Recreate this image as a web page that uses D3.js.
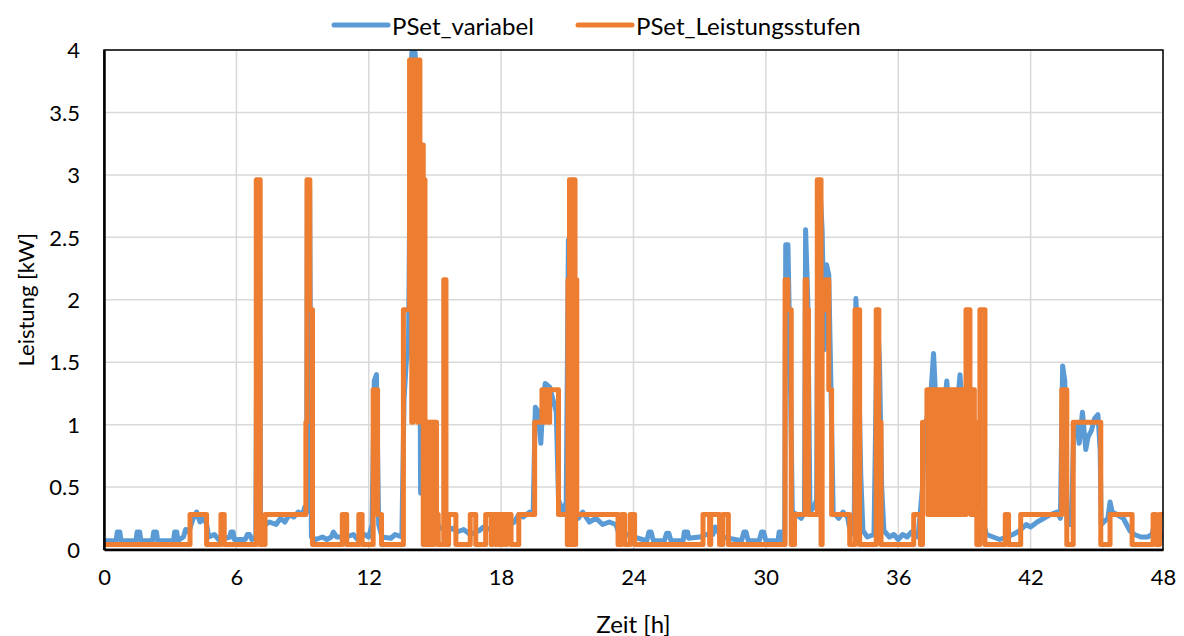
<!DOCTYPE html>
<html><head><meta charset="utf-8">
<script src="https://cdn.jsdelivr.net/npm/d3@7"></script>
<style>
html,body{margin:0;padding:0;background:#fff;}
text{font-family:Lato,"Open Sans",sans-serif;fill:#000;}
</style></head>
<body><svg id="chart" width="1184" height="636"></svg>
<script>
// ---------- data ----------
const seriesNames = ["PSet_variabel", "PSet_Leistungsstufen"];
const xTicks = [0, 6, 12, 18, 24, 30, 36, 42, 48];
const yTicks = [0, 0.5, 1, 1.5, 2, 2.5, 3, 3.5, 4];
const yTickLabels = ["0", "0.5", "1", "1.5", "2", "2.5", "3", "3.5", "4"];
const xTitle = "Zeit [h]";
const yTitle = "Leistung [kW]";

// PSet_variabel: [hour, kW]
const psetVariabel = [
[0,0.07],[0.55,0.07],[0.6,0.14],[0.72,0.14],[0.77,0.07],
[1.45,0.07],[1.5,0.14],[1.62,0.14],[1.67,0.07],
[2.2,0.07],[2.25,0.14],[2.38,0.14],[2.43,0.07],
[3.15,0.07],[3.2,0.14],[3.3,0.14],[3.35,0.07],
[3.6,0.1],[3.7,0.16],[3.85,0.14],[3.95,0.2],
[4.05,0.25],[4.2,0.3],[4.35,0.22],[4.5,0.26],[4.65,0.2],
[4.75,0.1],[5.0,0.12],[5.2,0.08],[5.5,0.09],[5.7,0.1],[5.75,0.14],[5.85,0.14],[5.9,0.08],
[6.4,0.08],[6.5,0.12],[6.6,0.12],[6.7,0.08],
[6.88,0.1],[6.95,2.6],[7.05,2.6],[7.1,0.1],[7.2,0.1],
[7.3,0.2],[7.5,0.22],[7.8,0.2],[8.0,0.25],[8.2,0.22],[8.4,0.28],[8.6,0.26],[8.8,0.3],[9.0,0.28],[9.1,0.34],
[9.18,0.3],[9.22,2.9],[9.32,2.9],[9.4,0.1],
[9.6,0.08],[9.9,0.1],[10.1,0.08],[10.3,0.1],[10.4,0.14],[10.55,0.1],[11.0,0.1],[11.3,0.12],[11.5,0.08],[11.8,0.12],[12.0,0.1],
[12.15,0.2],[12.25,1.35],[12.35,1.4],[12.45,0.2],
[12.6,0.1],[13.0,0.09],[13.2,0.12],[13.5,0.1],
[13.6,1.2],[13.7,1.5],[13.8,1.6],[13.88,3.3],[13.95,3.98],[14.1,3.98],[14.2,3.7],[14.3,2.6],[14.35,0.45],[14.42,1.0],[14.5,0.3],
[14.7,0.22],[15.0,0.25],[15.2,0.18],[15.5,0.15],[15.8,0.17],[16.0,0.14],[16.3,0.16],[16.6,0.12],[17.0,0.15],[17.2,0.18],[17.5,0.16],
[17.8,0.2],[18.1,0.18],[18.4,0.2],[18.6,0.22],[18.8,0.28],[19.0,0.26],[19.3,0.3],[19.45,0.28],
[19.55,1.14],[19.7,1.1],[19.8,0.85],[19.9,1.2],[20.0,1.33],[20.2,1.3],[20.35,1.2],[20.5,1.1],[20.6,0.4],[20.7,0.35],[20.8,0.3],[20.95,0.38],
[21.05,2.48],[21.15,2.2],[21.25,2.9],[21.35,0.3],[21.5,0.25],[21.7,0.3],[22.0,0.22],[22.3,0.25],[22.6,0.2],[22.9,0.22],[23.2,0.2],[23.35,0.12],[23.7,0.12],[24.0,0.1],
[24.6,0.07],[24.7,0.14],[24.8,0.14],[24.9,0.07],[25.4,0.07],[25.5,0.13],[25.6,0.13],[25.7,0.07],[26.25,0.07],[26.3,0.14],[26.45,0.14],[26.5,0.09],
[27.0,0.1],[27.3,0.12],[27.6,0.12],[27.7,0.18],[27.85,0.14],[28.0,0.1],[28.9,0.07],[29.0,0.14],[29.1,0.14],[29.2,0.07],
[29.7,0.07],[29.8,0.14],[29.9,0.14],[30.0,0.07],[30.55,0.07],[30.6,0.14],[30.7,0.14],[30.75,0.07],
[30.85,0.1],[30.9,2.44],[31.0,2.44],[31.1,1.5],[31.2,0.3],[31.4,0.28],[31.6,0.25],[31.75,0.3],[31.8,2.56],[31.9,2.0],[32.0,0.3],[32.2,0.35],[32.3,0.4],
[32.35,2.5],[32.45,2.9],[32.55,2.56],[32.65,1.6],[32.75,2.28],[32.85,2.2],[32.95,1.3],[33.05,0.3],[33.3,0.25],[33.5,0.3],[33.7,0.26],[33.85,0.12],
[34.0,0.15],[34.08,2.01],[34.2,1.5],[34.3,0.6],[34.4,0.15],[34.6,0.1],[34.9,0.12],[35.05,1.9],[35.15,1.5],[35.25,0.5],[35.35,0.15],
[35.6,0.1],[35.8,0.12],[36.0,0.08],[36.2,0.12],[36.4,0.1],[36.6,0.14],[36.9,0.1],[37.1,0.5],[37.2,0.95],[37.35,1.1],[37.5,1.3],[37.6,1.57],[37.7,1.2],
[37.8,0.7],[37.9,1.1],[38.0,0.95],[38.2,1.35],[38.3,1.1],[38.5,1.0],[38.7,1.2],[38.8,1.4],[38.9,1.1],[39.0,0.9],[39.1,1.2],[39.3,0.8],[39.4,0.6],
[39.6,0.4],[39.8,0.25],[40.0,0.12],[40.3,0.1],[40.6,0.08],[40.9,0.1],[41.2,0.12],[41.5,0.15],[41.8,0.2],[42.0,0.18],[42.3,0.22],[42.6,0.25],[42.9,0.28],
[43.2,0.3],[43.35,0.25],[43.45,1.47],[43.55,1.35],[43.65,0.2],[43.85,0.2],[43.95,0.95],[44.1,1.0],[44.2,0.85],[44.35,1.1],[44.5,0.8],[44.6,0.9],
[44.75,0.95],[44.9,1.05],[45.05,1.08],[45.15,0.8],[45.2,0.2],[45.5,0.25],[45.6,0.38],[45.7,0.3],[45.9,0.28],[46.2,0.25],[46.5,0.15],[46.7,0.12],
[47.0,0.1],[47.3,0.1],[47.5,0.12],[47.6,0.2],[47.7,0.12],[48,0.1]
];

// PSet_Leistungsstufen: [hour, kW] (held until next entry)
const psetLeistungsstufen = [
[0,0.04],[3.9,0.28],[4.65,0.04],[5.3,0.28],[5.45,0.04],[6.9,2.96],[7.08,0.04],[7.3,0.28],
[9.15,1.02],[9.2,2.96],[9.33,1.92],[9.45,0.04],[10.8,0.28],[11.0,0.04],[11.55,0.28],[11.7,0.04],
[12.2,1.28],[12.4,0.28],[12.58,0.04],[13.57,1.92],[13.85,3.92],[13.95,1.02],[14.0,3.92],[14.07,1.92],[14.12,3.92],
[14.22,1.02],[14.25,3.92],[14.32,3.24],[14.38,1.02],[14.42,3.24],[14.47,0.04],[14.5,2.96],[14.55,1.02],[14.58,0.04],
[14.61,1.02],[14.64,0.04],[14.67,1.02],[14.7,0.04],[14.73,1.02],[14.76,0.04],[14.79,1.02],[14.82,0.28],[14.85,1.02],
[14.88,0.04],[14.91,1.02],[14.94,0.04],[14.97,1.02],[15.0,0.28],[15.03,1.02],[15.07,0.28],[15.15,0.04],
[15.4,2.16],[15.5,0.04],[15.62,0.28],[15.95,0.04],[16.6,0.28],[16.85,0.04],[17.3,0.28],[17.55,0.04],[17.6,0.28],
[17.75,0.04],[17.8,0.28],[17.9,0.04],[17.95,0.28],[18.05,0.04],[18.1,0.28],[18.2,0.04],[18.25,0.28],[18.45,0.04],
[18.8,0.28],[19.52,1.02],[19.85,1.28],[19.95,1.02],[20.0,1.28],[20.15,1.02],[20.2,1.28],[20.6,0.28],
[21.0,0.04],[21.03,2.16],[21.07,0.04],[21.1,2.96],[21.14,0.04],[21.17,2.96],[21.21,0.04],[21.24,2.96],[21.28,0.04],
[21.31,2.96],[21.35,0.04],[21.38,2.16],[21.43,0.28],[23.3,0.04],[23.45,0.28],
[23.6,0.04],[23.85,0.28],[24.05,0.04],[27.15,0.28],[27.45,0.04],[27.5,0.28],[27.9,0.04],[28.05,0.28],[28.3,0.04],
[30.87,2.16],[31.0,1.92],[31.15,0.04],[31.3,0.28],[31.78,2.16],[31.85,1.92],[31.93,0.28],[32.33,2.96],[32.5,0.04],
[32.55,1.92],[32.72,2.16],[32.85,1.28],[32.98,0.28],[33.8,0.04],[34.04,1.92],[34.25,0.04],[35.0,1.92],[35.12,1.02],
[35.22,0.04],[36.7,0.28],[37.0,0.04],[37.1,1.02],
[37.3,1.28],[37.34,0.28],[37.38,1.28],[37.42,0.28],[37.46,1.28],[37.5,0.28],[37.54,1.28],[37.58,0.28],[37.62,1.28],[37.66,0.28],
[37.7,1.28],[37.74,0.28],[37.78,1.28],[37.82,0.28],[37.86,1.28],[37.9,0.28],[37.94,1.28],[37.98,0.28],[38.02,1.28],[38.06,0.28],
[38.1,1.28],[38.14,0.28],[38.18,1.28],[38.22,0.28],[38.26,1.28],[38.3,0.28],[38.34,1.28],[38.38,0.28],[38.42,1.28],[38.46,0.28],
[38.5,1.28],[38.54,0.28],[38.58,1.28],[38.62,0.28],[38.66,1.28],[38.7,0.28],[38.74,1.28],[38.78,0.28],[38.82,1.28],[38.86,0.28],
[38.9,1.28],[38.94,0.28],[38.98,1.28],[39.02,0.28],[39.07,1.92],[39.25,1.28],[39.29,0.28],[39.33,1.28],[39.37,0.28],[39.41,1.28],
[39.45,1.02],[39.56,0.04],[39.7,1.92],[39.93,0.04],[40.85,0.28],[41.0,0.04],[41.55,0.28],[43.41,1.28],[43.64,0.04],
[43.93,1.02],[45.18,0.04],[45.6,0.28],[46.6,0.04],[47.55,0.28],[47.7,0.04],[47.85,0.28],[48,0.28]
];

// ---------- layout ----------
const m = {left:104, right:1163, top:50, bottom:549.5};
const blue = "#5B9BD5", orange = "#ED7D31";
const svg = d3.select("#chart");

const x = d3.scaleLinear().domain([0,48]).range([m.left, m.right]);
const y = d3.scaleLinear().domain([0,4]).range([m.bottom, m.top]);

// grid
svg.append("g").selectAll("line").data(yTicks.slice(1)).join("line")
  .attr("x1", m.left).attr("x2", m.right)
  .attr("y1", d=>y(d)).attr("y2", d=>y(d))
  .attr("stroke", "#d9d9d9").attr("stroke-width", 1.5);
svg.append("g").selectAll("line").data(xTicks.slice(1)).join("line")
  .attr("y1", m.top).attr("y2", m.bottom)
  .attr("x1", d=>x(d)).attr("x2", d=>x(d))
  .attr("stroke", "#d9d9d9").attr("stroke-width", 1.5);

// clip
svg.append("clipPath").attr("id","clip").append("rect")
  .attr("x", m.left).attr("y", m.top-3).attr("width", m.right-m.left).attr("height", m.bottom-m.top+3);

const lineBlue = d3.line().x(d=>x(d[0])).y(d=>y(d[1]));
const lineOrange = d3.line().x(d=>x(d[0])).y(d=>y(d[1])).curve(d3.curveStepAfter);

const gLines = svg.append("g").attr("clip-path","url(#clip)");
gLines.append("path").datum(psetVariabel).attr("d", lineBlue)
  .attr("fill","none").attr("stroke", blue).attr("stroke-width", 5)
  .attr("stroke-linejoin","round").attr("stroke-linecap","round");
gLines.append("path").datum(psetLeistungsstufen).attr("d", lineOrange)
  .attr("fill","none").attr("stroke", orange).attr("stroke-width", 5)
  .attr("stroke-linejoin","round").attr("stroke-linecap","round");

// frame
svg.append("rect").attr("x", m.left).attr("y", m.top)
  .attr("width", m.right-m.left).attr("height", m.bottom-m.top)
  .attr("fill","none").attr("stroke","#000").attr("stroke-width",1.5);

// axes
const yAxis = d3.axisLeft(y).tickValues(yTicks).tickFormat((d,i)=>yTickLabels[i]).tickSize(0).tickPadding(24);
const gy = svg.append("g").attr("transform",`translate(${m.left},0)`).call(yAxis);
gy.select(".domain").attr("stroke","#000").attr("stroke-width",2.5);
gy.selectAll("text").attr("font-size",22).attr("font-family","Lato, sans-serif").attr("dy","0.35em");

const xAxis = d3.axisBottom(x).tickValues(xTicks).tickFormat(d=>String(d)).tickSize(0).tickPadding(20);
const gx = svg.append("g").attr("transform",`translate(0,${m.bottom})`).call(xAxis);
gx.select(".domain").attr("stroke","#000").attr("stroke-width",2.5);
gx.selectAll("text").attr("font-size",22).attr("font-family","Lato, sans-serif");

// titles
svg.append("text").attr("x",(m.left+m.right)/2).attr("y",623).attr("text-anchor","middle")
  .attr("dominant-baseline","central").attr("font-size",24).text(xTitle);
svg.append("text").attr("transform",`translate(25,${(m.top+m.bottom)/2}) rotate(-90)`)
  .attr("text-anchor","middle").attr("dominant-baseline","central").attr("font-size",22).text(yTitle);

// legend
const legend = [{name:seriesNames[0], color:blue, x:334},{name:seriesNames[1], color:orange, x:578}];
const lg = svg.append("g").selectAll("g").data(legend).join("g");
lg.append("line").attr("x1",d=>d.x).attr("x2",d=>d.x+54).attr("y1",25).attr("y2",25)
  .attr("stroke",d=>d.color).attr("stroke-width",5).attr("stroke-linecap","round");
lg.append("text").attr("x",d=>d.x+58).attr("y",25).attr("dominant-baseline","central")
  .attr("font-size",24).text(d=>d.name);
</script></body></html>
